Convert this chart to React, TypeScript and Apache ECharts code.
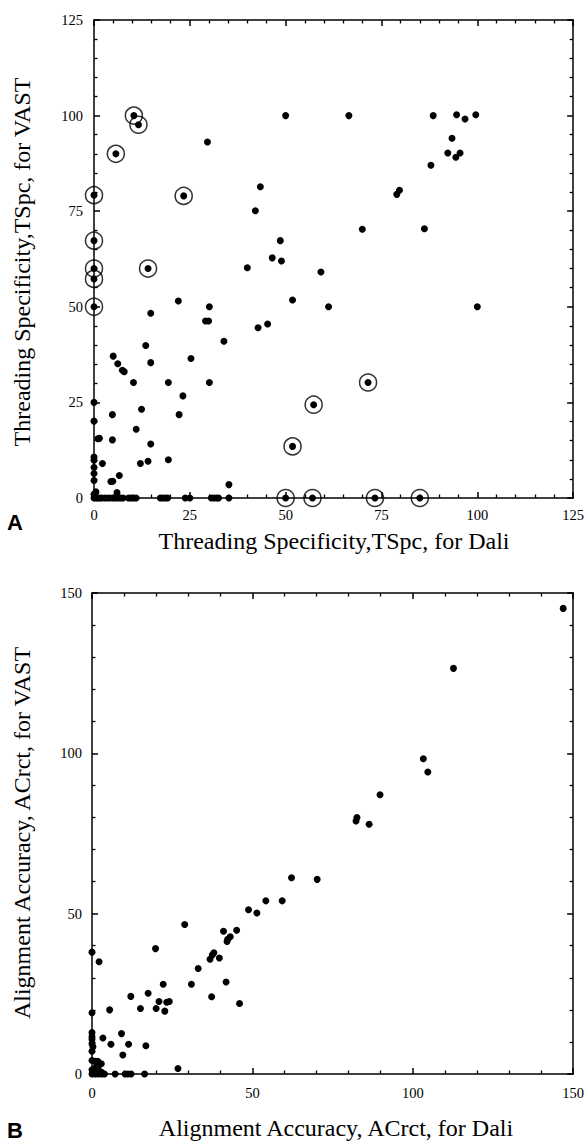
import React, { useEffect, useRef } from "react";
import * as echarts from "echarts";

// Panel A: Threading Specificity (Dali vs VAST)
const topDots: number[][] = [
  [10.4, 100], [11.6, 97.6], [5.7, 90], [0, 79.2], [23.4, 79], [0, 67.3],
  [50, 100], [29.6, 93.1], [43.4, 81.4], [42.1, 75.1], [48.6, 67.3], [46.5, 62.8], [48.9, 62],
  [66.5, 100], [70, 70.3], [79, 79.4], [79.7, 80.5], [86.2, 70.4], [87.9, 87], [88.5, 100],
  [92.3, 90.2], [93.4, 94.1], [94.4, 89.1], [95.5, 90.2], [94.6, 100.2], [96.8, 99.1], [99.6, 100.2],
  [0, 60], [0, 57.3], [0, 50], [14.1, 60], [40, 60.2], [59.2, 59.1], [51.8, 51.8], [61.2, 50],
  [100, 50], [22, 51.5], [30.1, 50], [29.1, 46.3], [29.9, 46.3], [14.8, 48.3], [42.8, 44.5],
  [45.3, 45.5], [33.9, 41], [13.5, 39.9], [5, 37.1], [6.2, 35.1], [7.4, 33.4], [7.9, 33],
  [14.8, 35.4], [25.3, 36.5], [10.3, 30.2], [19.4, 30.2], [30.1, 30.2], [23.2, 26.7], [0, 25],
  [4.8, 21.8], [22.2, 21.8], [12.4, 23.2], [0, 20.1], [11, 18], [1, 15.5], [1.4, 15.6],
  [4.8, 15.2], [14.8, 14.1], [0, 10.7], [0, 9.9], [2.2, 9], [12.1, 9], [14.1, 9.6], [19.4, 10],
  [0, 8], [0, 6.4], [0, 4.6], [6.6, 5.9], [4.4, 4.3], [4.9, 4.4], [35.2, 3.5], [6, 1.4],
  [0.5, 1.6], [0, 1], [71.5, 30.2], [57.3, 24.4], [51.8, 13.5],
  [0, 0], [0.5, 0], [1, 0], [1.5, 0], [2, 0], [2.8, 0], [3.5, 0], [4.2, 0], [5, 0], [5.6, 0],
  [6.3, 0], [7, 0], [7.6, 0], [9, 0], [9.6, 0], [10.3, 0], [11, 0], [17.3, 0], [17.9, 0],
  [18.6, 0], [19.2, 0], [23.8, 0], [25, 0], [30.6, 0], [31.3, 0], [32, 0], [32.5, 0], [35.2, 0],
  [50, 0], [57, 0], [73.3, 0], [85, 0],
];

const topCircled: number[][] = [
  [10.4, 100], [11.6, 97.6], [5.7, 90], [0, 79.2], [23.4, 79], [0, 67.3], [0, 60], [0, 57.3],
  [0, 50], [14.1, 60], [71.5, 30.2], [57.3, 24.4], [51.8, 13.5], [50, 0], [57, 0], [73.3, 0], [85, 0],
];

// Panel B: Alignment Accuracy (Dali vs VAST)
const bottomDots: number[][] = [
  [146.9, 145.2], [112.7, 126.5], [103.3, 98.3], [104.7, 94.2], [89.8, 87.1], [82.6, 80],
  [82.3, 78.9], [86.4, 77.9], [62.2, 61.2], [70.2, 60.7], [54.2, 54], [59.3, 54], [48.8, 51.2],
  [51.4, 50.2], [28.9, 46.6], [45.1, 44.8], [41, 44.5], [43.1, 42.8], [42.3, 42], [42.1, 41.3],
  [19.8, 39.1], [0, 38], [2.2, 35], [38, 37.8], [37.5, 37.1], [36.8, 35.8], [39.7, 36.2],
  [33.1, 32.9], [31, 28], [41.8, 28.7], [22.2, 28], [12.1, 24.2], [17.5, 25.2], [37.3, 24.1],
  [46, 22], [20.9, 22.6], [20, 20.4], [22.7, 19.6], [23.3, 22.4], [24.1, 22.6], [15.1, 20.4],
  [5.5, 20], [0, 19.1], [0, 12.9], [0, 11.6], [0, 10.8], [0, 9.4], [0.3, 8.5], [0, 7.1],
  [3.4, 11.2], [9.2, 12.6], [5.9, 9.3], [11.4, 9.3], [16.8, 8.8], [9.6, 5.9],
  [0, 4.2], [1, 4], [1.8, 4], [2.9, 3.2], [1.3, 2.3], [0, 1.3], [0.7, 1.2], [1.9, 1.7],
  [3, 0.5], [26.8, 1.7],
  [0, 0], [1, 0], [2, 0], [3, 0], [3.9, 0], [7.2, 0], [10.3, 0], [11.2, 0], [12.2, 0], [16.4, 0],
];

const topTitleX = "Threading Specificity,TSpc, for Dali";
const topTitleY = "Threading Specificity,TSpc, for VAST";
const bottomTitleX = "Alignment Accuracy, ACrct, for Dali";
const bottomTitleY = "Alignment Accuracy, ACrct, for VAST";
const panelLetters = ["A", "B"];

const SERIF = "'Liberation Serif', 'Times New Roman', serif";

function makeAxis(
  gridIndex: number,
  max: number,
  interval: number,
  position: string,
  labels: boolean,
  margin: number
) {
  return {
    type: "value",
    gridIndex,
    position,
    min: 0,
    max,
    interval,
    axisLine: { show: true, onZero: false, lineStyle: { color: "#000", width: 1.5 } },
    axisTick: { show: true, inside: true, length: 6, lineStyle: { color: "#000", width: 1.5 } },
    minorTick: { show: true, splitNumber: 5, length: 3.5, lineStyle: { color: "#000", width: 1.3 } },
    splitLine: { show: false },
    minorSplitLine: { show: false },
    axisLabel: {
      show: labels,
      color: "#000",
      fontFamily: SERIF,
      fontSize: 14.5,
      margin,
    },
  };
}

export default function App() {
  const ref = useRef<HTMLDivElement>(null);
  useEffect(() => {
    if (!ref.current) return;
    const chart = echarts.init(ref.current, undefined, { renderer: "svg" });
    const textStyle = (t: string) => ({
      text: t,
      font: `24px ${SERIF}`,
      fill: "#000",
      textAlign: "center",
      textVerticalAlign: "middle",
    });
    const option = {
      animation: false,
      backgroundColor: "#fff",
      grid: [
        { left: 94, top: 20, width: 480, height: 478 },
        { left: 92, top: 593, width: 482, height: 481 },
      ],
      xAxis: [
        makeAxis(0, 125, 25, "bottom", true, 9),
        makeAxis(0, 125, 25, "top", false, 8),
        makeAxis(1, 150, 50, "bottom", true, 11),
        makeAxis(1, 150, 50, "top", false, 8),
      ],
      yAxis: [
        makeAxis(0, 125, 25, "left", true, 11),
        makeAxis(0, 125, 25, "right", false, 8),
        makeAxis(1, 150, 50, "left", true, 10),
        makeAxis(1, 150, 50, "right", false, 8),
      ],
      series: [
        {
          type: "scatter",
          xAxisIndex: 0,
          yAxisIndex: 0,
          data: topCircled,
          symbol: "circle",
          symbolSize: 17,
          clip: false,
          itemStyle: { color: "rgba(0,0,0,0)", borderColor: "#000", borderWidth: 1.5 },
          z: 2,
        },
        {
          type: "scatter",
          xAxisIndex: 0,
          yAxisIndex: 0,
          data: topDots,
          symbol: "circle",
          symbolSize: 7,
          clip: false,
          itemStyle: { color: "#000", opacity: 1 },
          z: 3,
        },
        {
          type: "scatter",
          xAxisIndex: 2,
          yAxisIndex: 2,
          data: bottomDots,
          symbol: "circle",
          symbolSize: 7,
          clip: false,
          itemStyle: { color: "#000", opacity: 1 },
          z: 3,
        },
      ],
      graphic: [
        { type: "text", x: 334, y: 541, style: textStyle(topTitleX) },
        { type: "text", x: 22, y: 262, rotation: Math.PI / 2, style: textStyle(topTitleY) },
        { type: "text", x: 336, y: 1128, style: textStyle(bottomTitleX) },
        { type: "text", x: 22, y: 833, rotation: Math.PI / 2, style: textStyle(bottomTitleY) },
        {
          type: "text",
          x: 7,
          y: 522,
          style: { text: panelLetters[0], font: `bold 22px 'Liberation Sans', Arial, sans-serif`, fill: "#000", textAlign: "left", textVerticalAlign: "middle" },
        },
        {
          type: "text",
          x: 7,
          y: 1130,
          style: { text: panelLetters[1], font: `bold 22px 'Liberation Sans', Arial, sans-serif`, fill: "#000", textAlign: "left", textVerticalAlign: "middle" },
        },
      ],
    };
    chart.setOption(option as any);
    return () => chart.dispose();
  }, []);
  return (
    <div
      ref={ref}
      style={{ position: "absolute", left: 0, top: 0, width: 587, height: 1141, background: "#fff" }}
    />
  );
}
